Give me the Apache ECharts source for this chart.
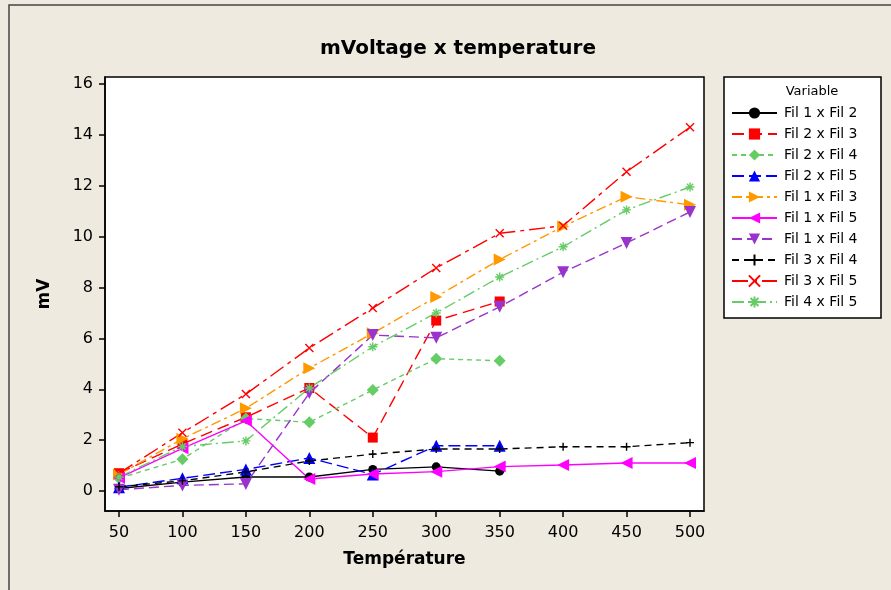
<!DOCTYPE html>
<html>
<head>
<meta charset="utf-8">
<script src="https://cdn.jsdelivr.net/npm/echarts@6/dist/echarts.min.js"></script>
<style>html,body{margin:0;padding:0;background:#EEEAE0;}#c{width:891px;height:590px;}</style>
</head>
<body>
<div id="c"></div>
<script>
var xTicks = [50, 100, 150, 200, 250, 300, 350, 400, 450, 500];
var yTicks = [0, 2, 4, 6, 8, 10, 12, 14, 16];
var temps = [50, 100, 150, 200, 250, 300, 350, 400, 450, 500];

var fil1x2 = [0.1, 0.35, 0.55, 0.55, 0.85, 0.95, 0.78];
var fil2x3 = [0.7, 1.85, 2.9, 4.05, 2.1, 6.7, 7.45];
var fil2x4 = [0.5, 1.25, 2.85, 2.7, 3.97, 5.2, 5.12];
var fil2x5 = [0.15, 0.5, 0.85, 1.3, 0.65, 1.78, 1.78];
var fil1x3 = [0.65, 2.05, 3.25, 4.83, 6.2, 7.63, 9.1, 10.4, 11.57, 11.25];
var fil1x5 = [0.52, 1.68, 2.76, 0.47, 0.67, 0.76, 0.96, 1.02, 1.1, 1.1];
var fil1x4 = [0.05, 0.22, 0.28, 3.85, 6.13, 6.02, 7.24, 8.6, 9.75, 10.97];
var fil3x4 = [0.17, 0.4, 0.75, 1.18, 1.45, 1.65, 1.65, 1.74, 1.74, 1.9];
var fil3x5 = [0.7, 2.29, 3.81, 5.62, 7.19, 8.77, 10.13, 10.43, 12.55, 14.3];
var fil4x5 = [0.55, 1.75, 1.97, 4.05, 5.67, 7.0, 8.41, 9.6, 11.05, 11.95];

function pts(vals) { return vals.map(function (v, i) { return [temps[i], v]; }); }

var PLUS = 'path://M5,0L5,10M0,5L10,5';
var CROSS = 'path://M0,0L10,10M10,0L0,10';
var STAR = 'path://M5,0L5,10M0,5L10,5M1.5,1.5L8.5,8.5M8.5,1.5L1.5,8.5';

function mk(name, vals, color, dash, symbol, size, rot, stroked) {
  return {
    name: name, type: 'line', data: pts(vals),
    symbol: symbol, symbolSize: size, symbolRotate: rot || 0,
    showAllSymbol: true,
    lineStyle: { color: color, width: 1.4, type: dash },
    itemStyle: stroked ? { color: color, borderColor: color, borderWidth: 1.4 } : { color: color, borderWidth: 0 },
    emphasis: { disabled: true },
    animation: false, z: 3
  };
}

var series = [
  mk('Fil 1 x Fil 2', fil1x2, '#000000', 'solid', 'circle', 9),
  mk('Fil 2 x Fil 3', fil2x3, '#FF0000', [12, 6], 'rect', 10),
  mk('Fil 2 x Fil 4', fil2x4, '#66CC66', [5, 4], 'diamond', 12),
  mk('Fil 2 x Fil 5', fil2x5, '#0000FF', [12, 5], 'triangle', 12),
  mk('Fil 1 x Fil 3', fil1x3, '#FF9900', [10, 4, 3, 4], 'triangle', 12, -90),
  mk('Fil 1 x Fil 5', fil1x5, '#FF00FF', 'solid', 'triangle', 12, 90),
  mk('Fil 1 x Fil 4', fil1x4, '#9933CC', [10, 5], 'triangle', 12, 180),
  mk('Fil 3 x Fil 4', fil3x4, '#000000', [7, 5], PLUS, 8, 0, true),
  mk('Fil 3 x Fil 5', fil3x5, '#FF0000', [16, 5, 4, 5], CROSS, 8, 0, true),
  mk('Fil 4 x Fil 5', fil4x5, '#66CC66', [12, 4, 2, 4], STAR, 9, 0, true)
];

var chart = echarts.init(document.getElementById('c'), null, { renderer: 'canvas' });
var font = 'DejaVu Sans';
chart.setOption({
  backgroundColor: '#EEEAE0',
  animation: false,
  title: {
    text: 'mVoltage x temperature', left: 453, top: 34, textAlign: 'center',
    textStyle: { fontFamily: font, fontWeight: 'bold', fontSize: 20, color: '#000' }
  },
  grid: {
    left: 105, top: 77, width: 599, height: 434,
    show: true, backgroundColor: '#FFFFFF', borderColor: '#000000', borderWidth: 1.5
  },
  legend: {
    orient: 'vertical', left: 724, top: 106,
    padding: [0, 0, 0, 7],
    itemWidth: 45, itemHeight: 14, itemGap: 7,
    textStyle: { fontFamily: font, fontSize: 14, color: '#000', padding: [0, 0, 0, 2] },
    selectedMode: false,
    data: series.map(function (s) { return s.name; })
  },
  xAxis: {
    type: 'value', min: 38.97, max: 511.03,
    name: 'Température', nameLocation: 'middle', nameGap: 40,
    nameTextStyle: { fontFamily: font, fontWeight: 'bold', fontSize: 17, color: '#000' },
    splitLine: { show: false },
    axisLine: { show: true, onZero: false, lineStyle: { color: '#000', width: 1.5 } },
    axisTick: { show: true, length: 6, inside: false, customValues: xTicks, lineStyle: { color: '#000', width: 1.5 } },
    axisLabel: { customValues: xTicks, fontFamily: font, fontSize: 16, color: '#000', margin: 14 }
  },
  yAxis: {
    type: 'value', min: -0.786, max: 16.275,
    name: 'mV', nameLocation: 'middle', nameGap: 52, nameRotate: 90,
    nameTextStyle: { fontFamily: font, fontWeight: 'bold', fontSize: 17, color: '#000' },
    splitLine: { show: false },
    axisLine: { show: true, onZero: false, lineStyle: { color: '#000', width: 1.5 } },
    axisTick: { show: true, length: 6, inside: false, customValues: yTicks, lineStyle: { color: '#000', width: 1.5 } },
    axisLabel: { customValues: yTicks, fontFamily: font, fontSize: 16, color: '#000', margin: 12 }
  },
  graphic: [
    { type: 'rect', shape: { x: 9, y: 5, width: 900, height: 600 }, style: { fill: 'none', stroke: '#444', lineWidth: 1.5 }, z: 0, silent: true },
    { type: 'rect', shape: { x: 724, y: 77, width: 157, height: 241 }, style: { fill: '#FFFFFF', stroke: '#000', lineWidth: 1.5 }, z: 0, silent: true },
    { type: 'text', x: 812, y: 92, style: { text: 'Variable', fontFamily: font, fontSize: 13, fill: '#000', align: 'center', verticalAlign: 'middle' }, z: 10, silent: true }
  ],
  series: series
});
</script>
</body>
</html>
